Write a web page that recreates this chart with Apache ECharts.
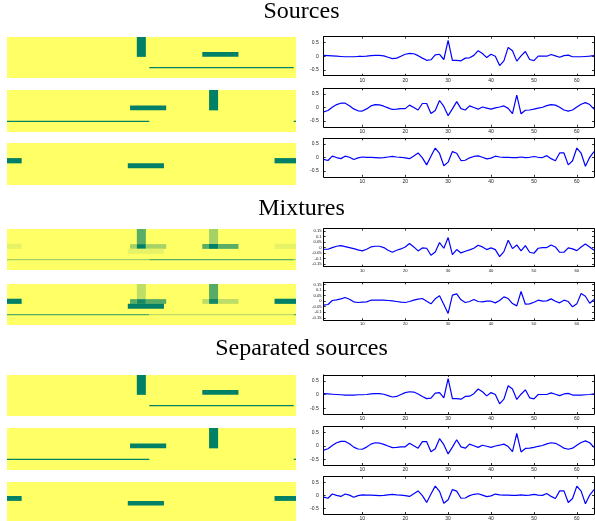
<!DOCTYPE html>
<html><head><meta charset="utf-8">
<script src="https://cdn.jsdelivr.net/npm/echarts@6/dist/echarts.min.js"></script>
<style>html,body{margin:0;padding:0;background:#fff}#c{width:595px;height:521px}</style>
</head><body><div id="c"></div>
<script>
// ---------- DATA ----------
const sampleIdx = Array.from({length:64},(_,i)=>i+1);
const src1 = [0.03,0.02,0.01,0,-0.01,-0.02,-0.02,-0.02,-0.01,-0.01,0,0.02,0.03,0.03,0.01,-0.04,-0.09,-0.07,0,0.07,0.1,0.09,0.02,-0.07,-0.15,-0.13,0.05,0.07,-0.12,0.58,-0.15,-0.15,-0.17,-0.07,-0.06,0.03,0.2,0.1,-0.05,0.07,0,-0.34,-0.17,0.32,0.2,-0.18,0.01,0.17,-0.12,-0.16,0,0,0,0.06,0.01,-0.04,0.02,0.04,-0.02,-0.02,-0.02,-0.01,0,0.02];
const src2 = [-0.16,-0.11,0.01,0.11,0.16,0.16,0.07,-0.05,-0.12,-0.13,-0.05,0.06,0.11,0.1,0.05,-0.01,-0.07,-0.06,-0.04,-0.04,0.09,0,-0.09,0.15,0.15,-0.22,-0.11,0.26,0.04,-0.3,-0.05,0.22,-0.04,-0.09,0.06,0,-0.06,0.02,-0.02,-0.06,-0.01,0.02,0.06,-0.03,-0.22,0.46,-0.23,-0.1,-0.09,-0.06,-0.02,0.01,0.07,0.11,0.09,0.01,-0.09,-0.13,-0.09,0.02,0.12,0.18,0.11,-0.06];
const src3 = [-0.07,-0.11,0.05,0,-0.04,0.05,0.01,-0.07,-0.01,0.02,0.01,0.01,0,-0.01,0,0.02,0.04,0.02,0.01,-0.01,-0.04,0.06,0.17,-0.01,-0.27,0.05,0.35,0.15,-0.3,-0.17,0.22,0.16,-0.11,-0.1,-0.01,0.04,0.06,0.01,-0.05,-0.02,0.05,0.02,0.01,0.01,0,0,0.02,0,0.01,0.04,0.01,0,0.07,-0.04,-0.12,0.17,0.17,-0.27,-0.12,0.35,0.16,-0.32,0.01,0.22];
const mix1 = [-0.015,-0.015,0,0.012,0.018,0.009,0,-0.009,-0.021,-0.03,-0.015,0.006,0.012,0.012,0,-0.024,-0.042,-0.024,-0.012,0.006,0.036,0.006,-0.03,-0.003,-0.006,-0.069,-0.039,0.045,-0.006,0.09,-0.063,-0.018,-0.048,-0.033,-0.021,-0.006,0.021,0.006,-0.018,-0.003,-0.018,-0.081,-0.036,0.066,-0.009,0.024,-0.03,0.018,-0.042,-0.051,-0.006,0,0,0.024,0.006,-0.042,-0.042,-0.003,-0.012,-0.027,0.006,0.033,0.006,-0.024];
const mix2 = [-0.036,-0.03,0.006,0.012,0.021,0.033,0.018,-0.006,-0.012,-0.009,-0.006,0.009,0.009,0.009,0.009,0.006,0.003,-0.003,-0.009,-0.012,-0.003,0.009,0.018,0.024,0,-0.024,0.021,0.048,-0.03,-0.11,0.054,0.066,0.012,-0.012,-0.003,0.015,-0.003,-0.006,0,0,-0.015,0.006,0.039,0.024,-0.021,-0.042,0.087,-0.027,-0.024,-0.009,0.009,0,0.003,0.021,0,-0.015,0.009,-0.003,-0.051,-0.024,0.069,0.045,-0.018,0.015];
const sep1 = src1.slice();
const sep2 = src2.slice();
const sep3 = src3.slice();
const xTickVals = [10,20,30,40,50,60];
const srcYTickVals = [-0.5,0,0.5];
const mixYTickVals = [-0.15,-0.1,-0.05,0,0.05,0.1,0.15];
// image blocks on a 64 x 32 frame: [x0, x1, y0, y1] (y measured from top)
const img1Blocks = [[28.75,30.75,0,15.5],[43.25,51.25,11.7,15.5],[31.5,63.5,23.4,24.4]];
const img2Blocks = [[44.75,46.75,0,15.5],[27.25,35.25,11.8,15.5],[0,31.5,23.4,24.4],[63.5,64,23.4,24.4]];
const img3Blocks = [[0,3.25,11.5,15.5],[59.25,64,11.5,15.5],[26.75,34.75,15.5,19.3]];
const mixWeights1 = [0.66,0.36,0.1];
const mixWeights2 = [0.25,0.63,0.95];
const sectionTitles = ['Sources','Mixtures','Separated sources'];

// ---------- BUILD ----------
function composeImage(blockSets, weights){
  const xs=new Set([0,64]), ys=new Set([0,32]);
  blockSets.forEach(bs=>bs.forEach(b=>{xs.add(b[0]);xs.add(b[1]);ys.add(b[2]);ys.add(b[3]);}));
  const X=[...xs].sort((a,b)=>a-b), Y=[...ys].sort((a,b)=>a-b);
  const runs=[];
  for(let j=0;j<Y.length-1;j++){
    const cy=(Y[j]+Y[j+1])/2; let run=null;
    for(let i=0;i<X.length-1;i++){
      const cx=(X[i]+X[i+1])/2; let v=0;
      blockSets.forEach((bs,s)=>bs.forEach(b=>{if(cx>b[0]&&cx<b[1]&&cy>b[2]&&cy<b[3]) v+=weights[s];}));
      v=Math.round(v*1000)/1000;
      if(run&&run[4]===v) run[1]=X[i+1];
      else{ if(run&&run[4]>0) runs.push(run); run=[X[i],X[i+1],Y[j],Y[j+1],v]; }
    }
    if(run&&run[4]>0) runs.push(run);
  }
  // vertical merge
  const open={}; const out=[];
  runs.forEach(r=>{
    const k=r[0]+'|'+r[1]+'|'+r[4]+'|'+r[2];
    if(open[k]){ const o=open[k]; delete open[k]; o[3]=r[3]; open[o[0]+'|'+o[1]+'|'+o[4]+'|'+o[3]]=o; }
    else { const o=r.slice(); out.push(o); open[o[0]+'|'+o[1]+'|'+o[4]+'|'+o[3]]=o; }
  });
  const mx=Math.max(...out.map(o=>o[4]));
  return out.map(o=>[o[0],o[1],o[2],o[3],o[4]/mx]);
}
const S=[img1Blocks,img2Blocks,img3Blocks];
const images=[
  composeImage([img1Blocks],[1]),composeImage([img2Blocks],[1]),composeImage([img3Blocks],[1]),
  composeImage(S,mixWeights1),composeImage(S,mixWeights2),
  composeImage([img1Blocks],[1]),composeImage([img2Blocks],[1]),composeImage([img3Blocks],[1])
];
const signals=[src1,src2,src3,mix1,mix2,sep1,sep2,sep3];
const isMix=[false,false,false,true,true,false,false,false];

const imgBoxes=[[7,37,289,41],[7,90,289,42],[7,143,289,42],[7,229,289,41],[7,284,289,41],[7,375,289,41],[7,428,289,42],[7,482,289,39]];
const plotBoxes=[[323.7,36.7,270.3,39],[323.7,88.3,270.3,38.5],[323.7,138.3,270.3,38.5],[323.7,228.7,270.3,38],[323.7,282.3,270.3,38],[323.7,375,270.3,39],[323.7,426.5,270.3,38.5],[323.7,476.7,270.3,38.5]];
const titleY=[12,209,349];

const grid=[],xAxis=[],yAxis=[],series=[],imgSeriesIdx=[];
function renderBlock(params,api){
  const p0=api.coord([api.value(0),api.value(2)]);
  const p1=api.coord([api.value(1),api.value(3)]);
  return {type:'rect',shape:{x:Math.min(p0[0],p1[0]),y:Math.min(p0[1],p1[1]),width:Math.abs(p1[0]-p0[0]),height:Math.abs(p1[1]-p0[1])},style:{fill:api.visual('color')}};
}
const lbl={fontFamily:'Liberation Sans',color:'#222'};
images.forEach((blocks,i)=>{
  const b=imgBoxes[i]; const g=grid.length;
  grid.push({left:b[0],top:b[1],width:b[2],height:b[3],show:true,backgroundColor:'#ffff66',borderWidth:0});
  const xi=xAxis.length; xAxis.push({gridIndex:g,type:'value',min:0,max:64,show:false});
  const yi=yAxis.length; yAxis.push({gridIndex:g,type:'value',min:0,max:32,inverse:true,show:false});
  imgSeriesIdx.push(series.length);
  series.push({type:'custom',xAxisIndex:xi,yAxisIndex:yi,dimensions:['x0','x1','y0','y1','v'],encode:{x:[0,1],y:[2,3]},data:blocks,renderItem:renderBlock,clip:true,silent:true});
});
signals.forEach((sig,i)=>{
  const b=plotBoxes[i]; const g=grid.length; const mix=isMix[i];
  grid.push({left:b[0],top:b[1],width:b[2],height:b[3]});
  const yt=mix?mixYTickVals:srcYTickVals;
  const ymin=mix?-0.172:-0.71, ymax=mix?0.17:0.71;
  const fs=mix?4.2:5;
  const axLine={show:true,onZero:false,lineStyle:{color:'#000',width:1}};
  const xi=xAxis.length;
  xAxis.push({gridIndex:g,type:'value',min:1,max:64,position:'bottom',axisLine:axLine,
    axisTick:{show:true,inside:true,length:2,customValues:xTickVals,lineStyle:{color:'#000',width:0.8}},
    axisLabel:Object.assign({show:true,customValues:xTickVals,fontSize:fs,margin:2},lbl),splitLine:{show:false}});
  xAxis.push({gridIndex:g,type:'value',min:1,max:64,position:'top',axisLine:axLine,
    axisTick:{show:true,inside:true,length:2,customValues:xTickVals,lineStyle:{color:'#000',width:0.8}},
    axisLabel:{show:false},splitLine:{show:false}});
  const yi=yAxis.length;
  yAxis.push({gridIndex:g,type:'value',min:ymin,max:ymax,position:'left',axisLine:axLine,
    axisTick:{show:true,inside:true,length:2,customValues:yt,lineStyle:{color:'#000',width:0.8}},
    axisLabel:Object.assign({show:true,customValues:yt,fontSize:fs,margin:mix?2:5},lbl),splitLine:{show:false}});
  yAxis.push({gridIndex:g,type:'value',min:ymin,max:ymax,position:'right',axisLine:axLine,
    axisTick:{show:true,inside:true,length:2,customValues:yt,lineStyle:{color:'#000',width:0.8}},
    axisLabel:{show:false},splitLine:{show:false}});
  series.push({type:'line',xAxisIndex:xi,yAxisIndex:yi,data:sampleIdx.map((x,k)=>[x,sig[k]]),
    showSymbol:false,symbol:'none',lineStyle:{color:'#0000ff',width:1.2},clip:true,silent:true});
});
const graphic=sectionTitles.map((t,i)=>({type:'text',x:301.5,y:titleY[i],
  style:{text:t,fontSize:24,fontFamily:'Liberation Serif',fill:'#000',align:'center',verticalAlign:'middle',textAlign:'center',textVerticalAlign:'middle'}}));

const chart=echarts.init(document.getElementById('c'),null,{renderer:'canvas'});
chart.setOption({animation:false,backgroundColor:'#fff',grid,xAxis,yAxis,series,graphic,
  visualMap:{type:'continuous',show:false,min:0,max:1,dimension:4,seriesIndex:imgSeriesIdx,inRange:{color:['#ffff66','#008066']}}});
</script></body></html>
